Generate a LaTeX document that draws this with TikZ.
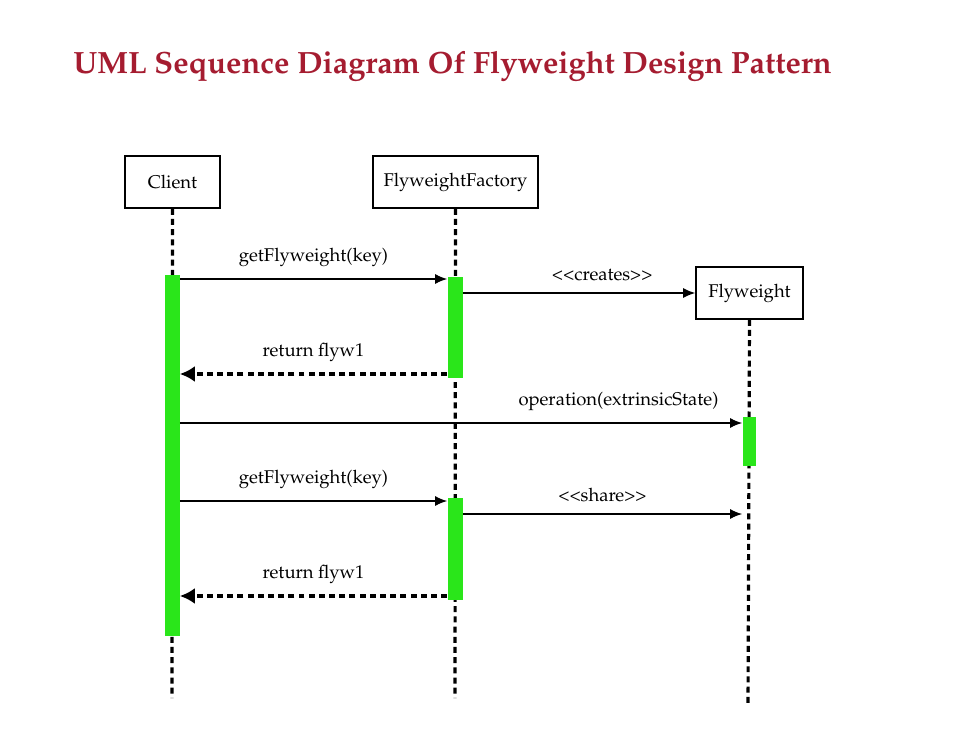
\documentclass[tikz,border=0pt]{standalone}
\usepackage[T1]{fontenc}
\usepackage{mathpazo}
\usetikzlibrary{arrows.meta}

\definecolor{titlered}{RGB}{165,28,48}
\definecolor{actgreen}{RGB}{42,230,26}

\begin{document}
\begin{tikzpicture}[x=0.02cm,y=-0.02cm,
  obj/.style={draw,line width=0.9pt,minimum height=1.04cm,inner sep=0pt,font=\fontsize{10.5}{12}\selectfont},
  lifeline/.style={line width=1.8pt,dash pattern=on 3.4pt off 2.4pt},
  bar/.style={fill=actgreen,draw=none,inner sep=0pt,minimum width=0.3cm},
  msg/.style={line width=0.8pt,-{Latex[length=2.4mm,width=2mm]}},
  ret/.style={line width=1.8pt,dash pattern=on 3.4pt off 2.4pt,-{Latex[length=3mm,width=3.2mm]}},
  lbl/.style={font=\fontsize{10.5}{12}\selectfont,above=3pt}]
  \useasboundingbox (0,0) rectangle (963,750);
  % titulo
  \node[anchor=base west,text=titlered,font=\fontsize{17.5}{20}\bfseries\selectfont,inner sep=0pt] (title) at (73,73) {UML Sequence Diagram Of Flyweight Design Pattern};
  % objetos
  \node[obj,minimum width=1.9cm] (client) at (172.5,182) {Client};
  \node[obj,minimum width=3.3cm] (factory) at (455.5,182) {FlyweightFactory};
  \node[obj,minimum width=2.14cm] (flyw) at (749.5,293) {Flyweight};
  % lineas de vida
  \coordinate (cend) at (172,698);
  \coordinate (fend) at (455,698);
  \coordinate (wend) at (748,706);
  \draw[lifeline] (client.south) -- (cend);
  \draw[lifeline] (factory.south) -- (fend);
  \draw[lifeline] (flyw.south) -- (wend);
  % barras de activacion
  \node[bar,anchor=north,minimum height=7.22cm] (cbar) at (172,275) {};
  \node[bar,anchor=north,minimum height=2.02cm] (fbar1) at (455,277) {};
  \node[bar,anchor=north,minimum height=2.04cm] (fbar2) at (455,498) {};
  \node[bar,anchor=north,minimum height=0.98cm,minimum width=0.26cm] (wbar) at (749,417) {};
  % mensajes
  \draw[msg] (cbar.east |- 0,279) -- node[lbl]{getFlyweight(key)} (fbar1.west |- 0,279);
  \draw[msg] (fbar1.east |- 0,293) -- node[lbl,pos=0.6]{<{}<creates>{}>} (flyw.west);
  \draw[ret] (fbar1.west |- 0,374) -- node[lbl]{return flyw1} (cbar.east |- 0,374);
  \draw[msg] (cbar.east |- 0,423) -- node[lbl,pos=0.78]{operation(extrinsicState)} (wbar.west |- 0,423);
  \draw[msg] (cbar.east |- 0,501) -- node[lbl]{getFlyweight(key)} (fbar2.west |- 0,501);
  \draw[msg] (fbar2.east |- 0,514) -- node[lbl]{<{}<share>{}>} (wbar.west |- 0,514);
  \draw[ret] (fbar2.west |- 0,596) -- node[lbl]{return flyw1} (cbar.east |- 0,596);
\end{tikzpicture}
\end{document}
